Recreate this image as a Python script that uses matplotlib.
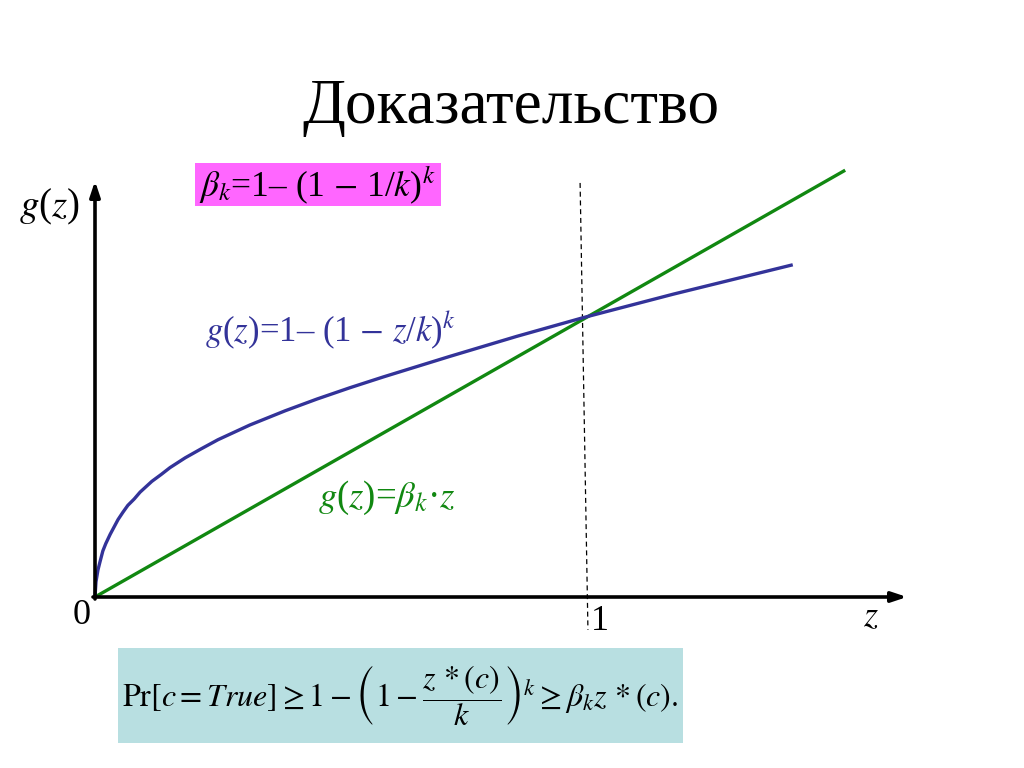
import matplotlib
matplotlib.use("Agg")
import matplotlib.pyplot as plt
from matplotlib.patches import Rectangle

plt.rcParams['font.family'] = ['Liberation Serif', 'DejaVu Serif']
plt.rcParams['mathtext.fontset'] = 'stix'

# ---- data (units: z along x, g(z) along y) ----
z_blue = [0, 0.002, 0.006, 0.010, 0.016, 0.022, 0.031, 0.039, 0.047, 0.057,
          0.067, 0.080, 0.092, 0.116, 0.135, 0.153, 0.184, 0.216, 0.251,
          0.316, 0.388, 0.453, 0.520, 0.588, 0.724, 0.861, 0.996, 1.180, 1.424]
g_blue = [0, 0.031, 0.055, 0.071, 0.094, 0.109, 0.128, 0.143, 0.158, 0.173,
          0.187, 0.200, 0.214, 0.236, 0.250, 0.264, 0.284, 0.302, 0.321,
          0.351, 0.380, 0.404, 0.427, 0.449, 0.491, 0.532, 0.570, 0.618, 0.678]
z_green = [0, 1.531]
g_green = [0, 0.871]
z_dash = [0.990, 1.006]
g_dash = [0.845, -0.067]

title = "Доказательство"
beta_label = r"$\beta_k$=1– (1 $-$ 1/$k$)$^k$"
blue_label = r"$g$($z$)=1– (1 $-$ $z$/$k$)$^k$"
green_label = r"$g$($z$)=$\beta_k$·$z$"
bottom_formula = (r"$\mathrm{Pr}\left[c=True\right]\geq 1-\left(1-\dfrac{z\,*(c)}{k}\right)^k"
                  r"\geq \beta_k z\,*(c).$")

W, H = 1024, 768
fig = plt.figure(figsize=(W / 100, H / 100), dpi=100)
ax = fig.add_axes([0, 0, 1, 1])
ox, oy, s = 95, 597, 490.0
ax.set_xlim(-ox / s, (W - ox) / s)
ax.set_ylim(-(H - oy) / s, oy / s)
ax.axis('off')

def px(x, y):
    return ((x - ox) / s, (oy - y) / s)

# background boxes (figure pixel coordinates)
def rect(x0, y0, x1, y1, color):
    fig.patches.append(Rectangle((x0 / W, 1 - y1 / H), (x1 - x0) / W, (y1 - y0) / H,
                                 transform=fig.transFigure, facecolor=color,
                                 edgecolor='none', zorder=0))

rect(195, 163, 441, 206, '#FF66FF')
rect(118, 648, 683, 743, '#B8DFE1')

# axes with arrows
ax.annotate('', xy=px(907, 597), xytext=px(93, 597),
            arrowprops=dict(arrowstyle='-|>,head_length=0.9,head_width=0.3',
                            color='black', lw=2.6, shrinkA=0, shrinkB=0))
ax.annotate('', xy=px(95, 181), xytext=px(95, 599),
            arrowprops=dict(arrowstyle='-|>,head_length=0.9,head_width=0.3',
                            color='black', lw=2.6, shrinkA=0, shrinkB=0))

# curves
ax.plot(z_dash, g_dash, color='black', lw=0.9, ls=(0, (4, 3)))
ax.plot(z_green, g_green, color='#118811', lw=2.4, solid_capstyle='butt')
ax.plot(z_blue, g_blue, color='#333399', lw=2.4, solid_capstyle='butt',
        solid_joinstyle='round')

# texts
fig.text(511 / W, 1 - 108 / H, title, ha='center', va='center', fontsize=45.5)
fig.text(199 / W, 1 - 185 / H, beta_label, ha='left', va='center', fontsize=25.5)
fig.text(205 / W, 1 - 330 / H, blue_label, ha='left', va='center', fontsize=25,
         color='#333399')
fig.text(318 / W, 1 - 498 / H, green_label, ha='left', va='center', fontsize=26.5,
         color='#118811')
fig.text(49 / W, 1 - 207 / H, r"$g$($z$)", ha='center', va='center', fontsize=28)
fig.text(82 / W, 1 - 616 / H, "0", ha='center', va='center', fontsize=26)
fig.text(600 / W, 1 - 621 / H, "1", ha='center', va='center', fontsize=26)
fig.text(871 / W, 1 - 618 / H, r"$z$", ha='center', va='center', fontsize=26)
fig.text(400 / W, 1 - 696 / H, bottom_formula, ha='center', va='center', fontsize=23)

fig.savefig('out.png', dpi=100)
